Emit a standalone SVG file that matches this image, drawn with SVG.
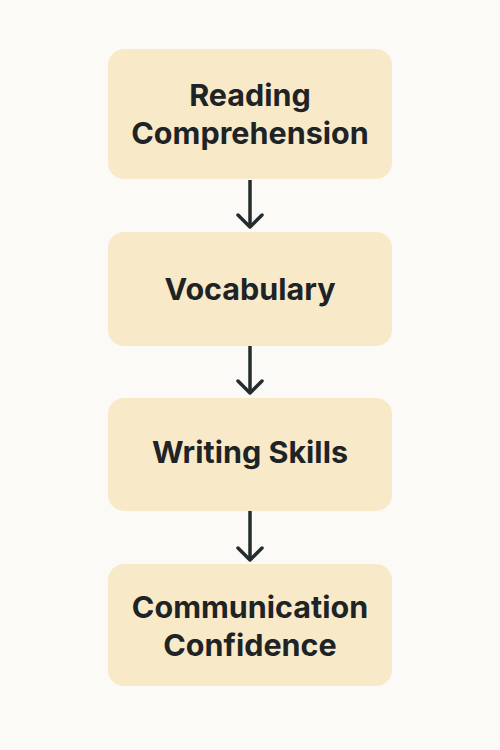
<svg xmlns="http://www.w3.org/2000/svg" width="500" height="750" viewBox="0 0 500 750">
<style>
.box{fill:#F8E9C9;}
.lbl{font-family:Inter,"Noto Sans","Liberation Sans",sans-serif;font-weight:700;font-size:30.5px;fill:#1E2425;text-anchor:middle;}
.con{stroke:#232C2E;stroke-width:3.5;fill:none;}
.head{stroke:#232C2E;stroke-width:3.5;fill:none;stroke-linecap:round;stroke-linejoin:round;}
</style>
<rect width="500" height="750" fill="#FBFAF6"/>
<g id="connectors">
<line class="con" x1="250" y1="180" x2="250" y2="227"/>
<polyline class="head" points="238,215 250,227 262,215"/>
<line class="con" x1="250" y1="346" x2="250" y2="393"/>
<polyline class="head" points="238,381 250,393 262,381"/>
<line class="con" x1="250" y1="511" x2="250" y2="560"/>
<polyline class="head" points="238,548 250,560 262,548"/>
</g>
<g id="node1">
<rect class="box" x="108" y="49" width="284" height="130" rx="16"/>
<text class="lbl" x="250" y="106">Reading</text>
<text class="lbl" x="250" y="144">Comprehension</text>
</g>
<g id="node2">
<rect class="box" x="108" y="232" width="284" height="114" rx="16"/>
<text class="lbl" x="250" y="300">Vocabulary</text>
</g>
<g id="node3">
<rect class="box" x="108" y="398" width="284" height="113" rx="16"/>
<text class="lbl" x="250" y="463">Writing Skills</text>
</g>
<g id="node4">
<rect class="box" x="108" y="564" width="284" height="122" rx="16"/>
<text class="lbl" x="250" y="618">Communication</text>
<text class="lbl" x="250" y="656">Confidence</text>
</g>
</svg>
